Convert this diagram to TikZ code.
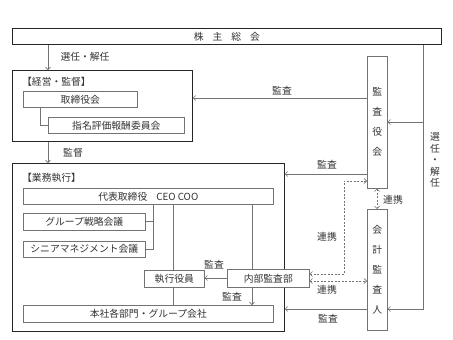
\documentclass[tikz,border=0pt]{standalone}
\usepackage{fontspec}
\setmainfont{Noto Sans CJK JP}
\usetikzlibrary{arrows.meta,calc}
\tikzset{
  bigbox/.style={draw=black!85,line width=0.8pt,inner sep=0pt,anchor=north west},
  box/.style={draw=black!55,line width=0.6pt,inner sep=0pt,anchor=north west,fill=white},
  conn/.style={draw=black!55,line width=0.6pt},
  arr/.style={conn,-{Straight Barb[length=2.5pt,width=5pt]}},
  dsh/.style={conn,dashed,dash pattern=on 2pt off 1.5pt,{Straight Barb[length=2.5pt,width=5pt]}-{Straight Barb[length=2.5pt,width=5pt]}},
  lbl/.style={inner sep=0pt,text=black!80,font=\fontsize{9.8}{11}\selectfont},
}
\begin{document}
\begin{tikzpicture}[x=1pt,y=-1pt]
\useasboundingbox[fill=white] (0,0) rectangle (453,340);
% big boxes
\node[bigbox,minimum width=429pt,minimum height=16pt] (top) at (12,28) {};
\node[lbl] at (top.center) {株\hspace{9pt}主\hspace{9pt}総\hspace{9pt}会};
\node[bigbox,minimum width=180pt,minimum height=71pt] (keiei) at (12,70) {};
\node[lbl,anchor=west] (keieit) at (22,82) {【経営・監督】};
\node[bigbox,minimum width=272pt,minimum height=168pt] (gyomu) at (12,163) {};
\node[lbl,anchor=west] (gyomut) at (22,178) {【業務執行】};
% inner boxes
\node[box,minimum width=114pt,minimum height=16pt] (tori) at (23,91) {};
\node[lbl] at (tori.center) {取締役会};
\node[box,minimum width=136pt,minimum height=16pt] (shimei) at (48,117) {};
\node[lbl] at (shimei.center) {指名評価報酬委員会};
\node[box,minimum width=250pt,minimum height=16pt] (ceo) at (23,188) {};
\node[lbl] at (ceo.center) {代表取締役\hspace{9pt}CEO COO};
\node[box,minimum width=122pt,minimum height=17pt] (group) at (23,213) {};
\node[lbl] at (group.center) {グループ戦略会議};
\node[box,minimum width=122pt,minimum height=16pt] (senior) at (23,241) {};
\node[lbl] at (senior.center) {シニアマネジメント会議};
\node[box,minimum width=60pt,minimum height=17pt] (shikko) at (144,270) {};
\node[lbl] at (shikko.center) {執行役員};
\node[box,minimum width=250pt,minimum height=17pt] (honsha) at (23,305) {};
\node[lbl] at (honsha.center) {本社各部門・グループ会社};
\node[box,minimum width=82pt,minimum height=18pt] (naibu) at (227,269) {};
\node[lbl] at (naibu.center) {内部監査部};
\node[box,minimum width=20pt,minimum height=132pt] (kansa) at (367,56) {};
\node[lbl,align=center,font=\fontsize{9.8}{20}\selectfont] at (kansa.center) {監\\査\\役\\会};
\node[box,minimum width=20pt,minimum height=121pt] (kaikei) at (367,209) {};
\node[lbl,align=center,font=\fontsize{9.8}{20}\selectfont] at (kaikei.center) {会\\計\\監\\査\\人};
% coordinates
\coordinate (xa) at (48,0);
\coordinate (xb) at (40,0);
\coordinate (xc) at (153,0);
\coordinate (xd) at (173,0);
\coordinate (xe) at (252,0);
\coordinate (xr) at (423,0);
\coordinate (xm) at (344,0);
\coordinate (xk) at (377,0);
\coordinate (y1) at (0,98);
\coordinate (y2) at (0,174);
\coordinate (y3) at (0,309);
\coordinate (y4) at (0,122);
\coordinate (y5) at (0,125);
\coordinate (y6) at (0,221);
\coordinate (y7) at (0,249);
\coordinate (y8) at (0,278);
\coordinate (y9) at (0,274);
\coordinate (y10) at (0,181);
\coordinate (y11) at (0,281);
% connectors
\draw[arr] (top.south -| xa) -- (keiei.north -| xa);
\node[lbl] at (85,57) {選任・解任};
\draw[arr] (keiei.south -| xa) -- (gyomu.north -| xa);
\node[lbl] at (73,153) {監督};
\draw[conn] (tori.south -| xb) |- (shimei.west |- y5);
\draw[conn] (ceo.south -| xc) |- (senior.east |- y7);
\draw[conn] (group.east |- y6) -- (xc |- y6);
\draw[conn] (ceo.south -| xd) -- (shikko.north -| xd);
\draw[conn] (shikko.south -| xd) -- (honsha.north -| xd);
\draw[arr] (naibu.west |- y8) -- (shikko.east |- y8);
\node[lbl] at (214,265) {監査};
\draw[conn] (ceo.south -| xe) -- (naibu.north -| xe);
\draw[arr] (naibu.south -| xe) -- (honsha.north -| xe);
\node[lbl] at (232,297) {監査};
\draw[arr] (kansa.west |- y1) -- (keiei.east |- y1);
\node[lbl] at (282,91) {監査};
\draw[arr] (kansa.west |- y2) -- (gyomu.east |- y2);
\node[lbl] at (327,165) {監査};
\draw[arr] (kaikei.west |- y3) -- (gyomu.east |- y3);
\node[lbl] at (328,319) {監査};
\draw[arr] (top.south -| xr) |- (kaikei.east |- y3);
\draw[arr] (xr |- y4) -- (kansa.east |- y4);
\node[lbl,align=center,font=\fontsize{9.8}{11.5}\selectfont] at (435,160) {選\\任\\・\\解\\任};
\draw[dsh] (naibu.east |- y9) -- (xm |- y9) -- (xm |- y10) -- (kansa.west |- y10);
\draw[dsh] (naibu.east |- y11) -- (kaikei.west |- y11);
\draw[dsh] (kansa.south -| xk) -- (kaikei.north -| xk);
\node[lbl] at (393,200) {連携};
\node[lbl] at (327,237) {連携};
\node[lbl] at (327,290) {連携};
\end{tikzpicture}
\end{document}
